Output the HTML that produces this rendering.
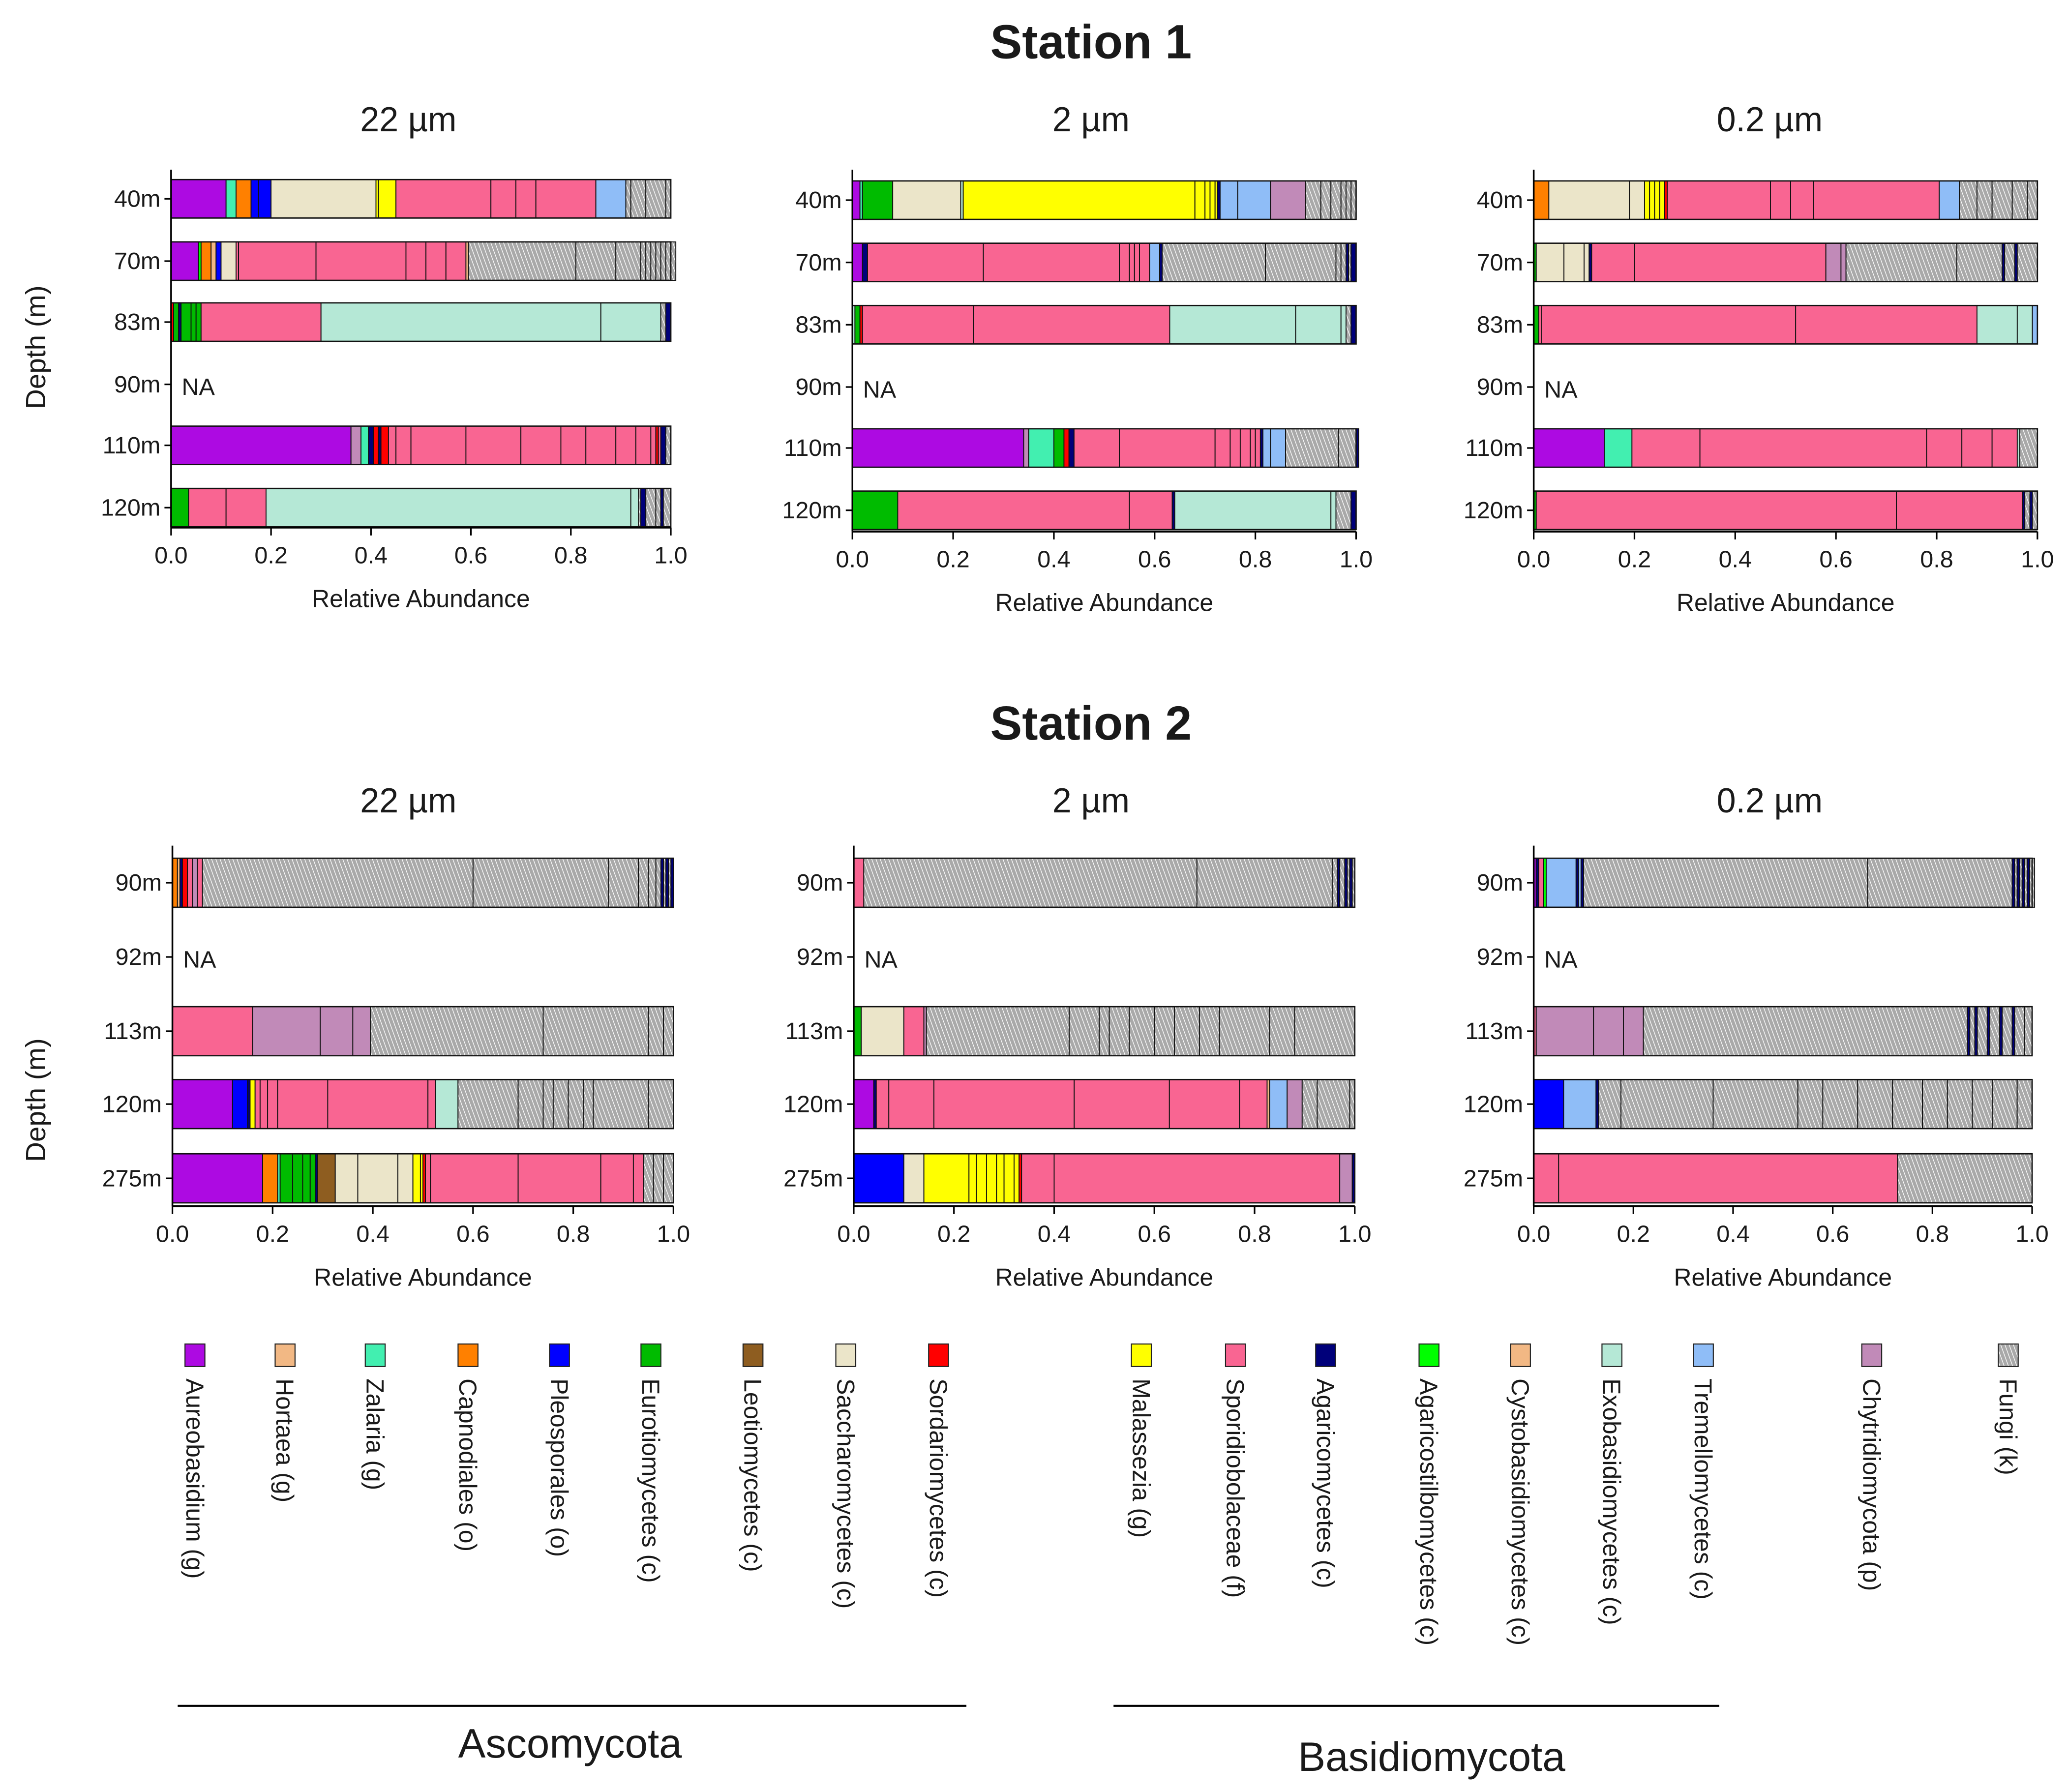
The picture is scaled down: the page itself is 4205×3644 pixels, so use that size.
<!DOCTYPE html>
<html><head><meta charset="utf-8">
<style>
html,body{margin:0;padding:0;background:#fff;}
svg{display:block;font-family:"Liberation Sans",Arial,sans-serif;}
</style></head>
<body>
<svg id="fig" width="4205" height="3644" viewBox="0 0 1560 1352" xmlns="http://www.w3.org/2000/svg">
<defs>
<pattern id="hatch" patternUnits="userSpaceOnUse" width="3" height="3" patternTransform="rotate(-20)">
<rect width="3" height="3" fill="#a9a9a9"/>
<line x1="0" y1="0" x2="0" y2="3" stroke="#ffffff" stroke-width="1"/>
</pattern>
</defs>
<g id="root"></g>
</svg>
<script>
// category codes -> colors / names
const catCodes = ["A","H","Z","C","P","E","L","S","R","M","D","G","T","Y","X","W","K","F"];
const catNames = ["Aureobasidium (g)","Hortaea (g)","Zalaria (g)","Capnodiales (o)","Pleosporales (o)","Eurotiomycetes (c)","Leotiomycetes (c)","Saccharomycetes (c)","Sordariomycetes (c)","Malassezia (g)","Sporidiobolaceae (f)","Agaricomycetes (c)","Agaricostilbomycetes (c)","Cystobasidiomycetes (c)","Exobasidiomycetes (c)","Tremellomycetes (c)","Chytridiomycota (p)","Fungi (k)"];
const catColors = ["#ad0ae2","#f2b884","#42efb0","#ff8000","#0000ff","#00bb00","#8e5d20","#ebe5c9","#ff0000","#ffff00","#f96592","#00007a","#00ff00","#f2b884","#b5e8d6","#8fbdf7","#c18ab8","url(#hatch)"];

const s1Depths = ["40m","70m","83m","90m","110m","120m"];
const s2Depths = ["90m","92m","113m","120m","275m"];
const sizes = ["22 µm","2 µm","0.2 µm"];
const xTicks = ["0.0","0.2","0.4","0.6","0.8","1.0"];

const s1_22 = [
 [["A",.11],["Z",.02],["C",.03],["P",.015],["P",.025],["S",.21],["M",.005],["M",.035],["D",.19],["D",.05],["D",.04],["D",.12],["W",.06],["F",.01],["F",.03],["F",.04],["F",.01]],
 [["A",.055],["T",.005],["C",.02],["H",.01],["P",.01],["S",.03],["D",.005],["D",.155],["D",.18],["D",.04],["D",.04],["D",.04],["Y",.005],["F",.215],["F",.08],["F",.05],["F",.01],["F",.01],["F",.01],["F",.01],["F",.01],["F",.02]],
 [["R",.005],["E",.01],["G",.005],["E",.02],["E",.01],["E",.01],["D",.24],["X",.56],["X",.12],["F",.01],["G",.01]],
 null,
 [["A",.36],["K",.02],["Z",.015],["G",.01],["R",.01],["G",.005],["R",.015],["D",.015],["D",.03],["D",.11],["D",.11],["D",.08],["D",.05],["D",.06],["D",.04],["D",.03],["D",.01],["R",.005],["D",.005],["G",.01],["F",.01]],
 [["E",.035],["D",.075],["D",.08],["X",.73],["X",.015],["F",.005],["G",.01],["F",.02],["F",.01],["G",.005],["F",.015]]
];
const s1_2 = [
 [["A",.015],["Z",.005],["E",.06],["S",.135],["X",.005],["M",.46],["M",.02],["M",.01],["M",.01],["M",.005],["G",.005],["W",.035],["W",.065],["K",.07],["F",.03],["F",.02],["F",.02],["F",.01],["F",.01],["F",.01]],
 [["A",.02],["G",.01],["D",.23],["D",.27],["D",.02],["D",.01],["D",.01],["D",.02],["W",.02],["G",.005],["F",.205],["F",.14],["F",.01],["F",.01],["G",.005],["F",.005],["G",.01]],
 [["X",.005],["E",.01],["R",.005],["D",.22],["D",.39],["X",.25],["X",.09],["X",.01],["F",.01],["G",.01]],
 null,
 [["A",.34],["K",.01],["Z",.05],["E",.02],["R",.01],["G",.01],["D",.09],["D",.19],["D",.03],["D",.02],["D",.02],["D",.01],["D",.01],["G",.005],["W",.015],["W",.03],["F",.105],["F",.035],["G",.005]],
 [["E",.09],["D",.46],["D",.085],["G",.005],["X",.31],["X",.01],["F",.03],["G",.01]]
];
const s1_02 = [
 [["C",.03],["S",.16],["S",.03],["M",.01],["M",.01],["M",.01],["M",.01],["R",.005],["D",.205],["D",.04],["D",.045],["D",.25],["W",.04],["F",.035],["F",.03],["F",.04],["F",.03],["F",.02]],
 [["E",.005],["S",.055],["S",.04],["S",.01],["G",.005],["D",.085],["D",.38],["K",.03],["K",.01],["F",.22],["F",.09],["G",.005],["F",.02],["G",.005],["F",.04]],
 [["E",.01],["D",.005],["D",.505],["D",.36],["X",.08],["X",.03],["W",.01]],
 null,
 [["A",.14],["Z",.055],["D",.135],["D",.45],["D",.07],["D",.06],["D",.05],["X",.005],["F",.035]],
 [["E",.005],["D",.715],["D",.25],["G",.005],["F",.01],["G",.005],["F",.01]]
];
const s2_22 = [
 [["C",.01],["H",.005],["G",.005],["R",.01],["D",.01],["K",.01],["D",.01],["F",.54],["F",.27],["F",.06],["F",.02],["F",.015],["F",.01],["G",.005],["F",.005],["G",.005],["F",.005],["G",.005]],
 null,
 [["D",.16],["K",.135],["K",.065],["K",.035],["F",.345],["F",.21],["F",.03],["F",.02]],
 [["A",.12],["P",.03],["G",.005],["M",.01],["D",.01],["D",.015],["D",.02],["D",.1],["D",.2],["D",.015],["X",.045],["F",.12],["F",.05],["F",.02],["F",.03],["F",.03],["F",.02],["F",.11],["F",.05]],
 [["A",.18],["C",.03],["Z",.005],["E",.025],["E",.02],["E",.015],["E",.01],["G",.005],["L",.035],["S",.045],["S",.08],["S",.03],["M",.015],["M",.005],["R",.005],["D",.01],["D",.175],["D",.165],["D",.065],["D",.02],["F",.02],["F",.02],["F",.02]]
];
const s2_2 = [
 [["D",.02],["F",.665],["F",.27],["F",.01],["G",.005],["F",.01],["G",.005],["F",.005],["G",.005],["F",.005]],
 null,
 [["E",.015],["S",.085],["D",.04],["K",.005],["F",.285],["F",.06],["F",.02],["F",.04],["F",.05],["F",.04],["F",.05],["F",.04],["F",.1],["F",.05],["F",.12]],
 [["A",.04],["G",.005],["D",.025],["D",.09],["D",.28],["D",.19],["D",.14],["D",.055],["Y",.005],["W",.035],["K",.03],["F",.03],["F",.065],["F",.01]],
 [["P",.10],["S",.04],["M",.09],["M",.015],["M",.02],["M",.02],["M",.015],["M",.02],["M",.01],["R",.005],["D",.065],["D",.57],["K",.025],["G",.005]]
];
const s2_02 = [
 [["A",.005],["G",.005],["D",.01],["T",.005],["W",.06],["G",.005],["W",.005],["G",.005],["F",.57],["F",.29],["G",.005],["F",.005],["G",.005],["F",.005],["G",.005],["F",.005],["G",.005],["F",.01]],
 null,
 [["D",.005],["K",.115],["K",.06],["K",.04],["F",.65],["G",.005],["F",.01],["G",.005],["F",.02],["G",.005],["F",.02],["G",.005],["F",.02],["G",.005],["F",.02],["F",.015]],
 [["P",.06],["W",.065],["G",.005],["F",.045],["F",.185],["F",.17],["F",.05],["F",.07],["F",.07],["F",.06],["F",.05],["F",.05],["F",.04],["F",.05],["F",.03]],
 [["D",.05],["D",.68],["F",.27]]
];

const NS = "http://www.w3.org/2000/svg";
const root = document.getElementById("root");
function mk(tag, attrs, parent){
  const e = document.createElementNS(NS, tag);
  for (const k in attrs) e.setAttribute(k, attrs[k]);
  (parent||root).appendChild(e);
  return e;
}
function txt(x,y,s,size,opts,parent){
  const t = mk("text",Object.assign({x:x,y:y,"font-size":size,fill:"#1a1a1a"},opts||{}),parent);
  t.textContent = s;
  return t;
}

const panelsS1 = [
 {x0:129,x1:506,data:s1_22,rows:[150,197,243,290,336,383],axisY:398,size:sizes[0],subX:308},
 {x0:643,x1:1023,data:s1_2,rows:[151,198,245,292,338,385],axisY:401,size:sizes[1],subX:823},
 {x0:1157,x1:1537,data:s1_02,rows:[151,198,245,292,338,385],axisY:401,size:sizes[2],subX:1335}
];
const panelsS2 = [
 {x0:130,x1:508,data:s2_22,rows:[666,722,778,833,889],axisY:910,size:sizes[0],subX:308},
 {x0:644,x1:1022,data:s2_2,rows:[666,722,778,833,889],axisY:910,size:sizes[1],subX:823},
 {x0:1157,x1:1533,data:s2_02,rows:[666,722,778,833,889],axisY:910,size:sizes[2],subX:1335}
];

function drawPanel(p, depths, barH, subY, topY, name){
  const g = mk("g",{});
  
  
  const xs = v => p.x0 + v*(p.x1-p.x0);
  const st = txt(p.subX, subY, p.size, 26, {"text-anchor":"middle"}, g);
  
  
  depths.forEach((d,i)=>{
    const y = p.rows[i];
    const lb = txt(p.x0-8, y+6, d, 18, {"text-anchor":"end"}, g);
    
    
    mk("line",{x1:p.x0-5,x2:p.x0,y1:y,y2:y,stroke:"#000","stroke-width":1.2},g);
    const bar = p.data[i];
    if (!bar){
      const na = txt(p.x0+8, y+8, "NA", 18, {}, g);
      
      
      return;
    }
    let acc = 0;
    bar.forEach(seg=>{
      const ci = catCodes.indexOf(seg[0]);
      const r = mk("rect",{x:xs(acc),y:y-barH/2,width:Math.max(0.01,xs(acc+seg[1])-xs(acc)),height:barH,fill:catColors[ci],stroke:"#111","stroke-width":0.7},g);
      
      
      acc += seg[1];
    });
    mk("rect",{x:xs(0),y:y-barH/2,width:xs(1)-xs(0),height:barH,fill:"none",stroke:"#111","stroke-width":1},g);
  });
  const ya = mk("line",{x1:p.x0,x2:p.x0,y1:topY,y2:p.axisY,stroke:"#000","stroke-width":1.3},g);
  
  
  const xa = mk("line",{x1:p.x0,x2:p.x1,y1:p.axisY,y2:p.axisY,stroke:"#000","stroke-width":1.5},g);
  
  
  xTicks.forEach((t,i)=>{
    const x = xs(i/5);
    mk("line",{x1:x,x2:x,y1:p.axisY,y2:p.axisY+6,stroke:"#000","stroke-width":1.2},g);
    const tl = txt(x, p.axisY+27, t, 18, {"text-anchor":"middle"}, g);
    
    
  });
  const xt = txt((p.x0+p.x1)/2, p.axisY+60, "Relative Abundance", 18.5, {"text-anchor":"middle"}, g);
  
  
}

const t1 = txt(823, 44, "Station 1", 36, {"text-anchor":"middle","font-weight":"bold"});


const t2 = txt(823, 558, "Station 2", 36, {"text-anchor":"middle","font-weight":"bold"});



panelsS1.forEach((p,i)=>drawPanel(p, s1Depths, 29, 99, 128, "station-1-panel-"+(i+1)));
panelsS2.forEach((p,i)=>drawPanel(p, s2Depths, 37, 613, 638, "station-2-panel-"+(i+1)));

const d1 = txt(0,0,"Depth (m)",21,{"text-anchor":"middle",transform:"translate(34,262) rotate(-90)"});


const d2 = txt(0,0,"Depth (m)",21,{"text-anchor":"middle",transform:"translate(34,830) rotate(-90)"});



const legendX = [147,215,283,353,422,491,568,638,708,861,932,1000,1078,1147,1216,1285,1412,1515];
catCodes.forEach((c,i)=>{
  const g = mk("g",{});
  
  
  const x = legendX[i];
  mk("rect",{x:x-7.5,y:1014,width:15,height:17,fill:catColors[i],stroke:"#222","stroke-width":0.8},g);
  txt(0,0,catNames[i],18.5,{transform:"translate("+(x-6.5)+",1040) rotate(90)"},g);
});
const l1 = mk("line",{x1:134,x2:729,y1:1287,y2:1287,stroke:"#000","stroke-width":1.5});


const l2 = mk("line",{x1:840,x2:1297,y1:1287,y2:1287,stroke:"#000","stroke-width":1.5});


const a1 = txt(430,1326,"Ascomycota",31,{"text-anchor":"middle"});


const a2 = txt(1080,1336,"Basidiomycota",31,{"text-anchor":"middle"});


</script>
</body></html>
